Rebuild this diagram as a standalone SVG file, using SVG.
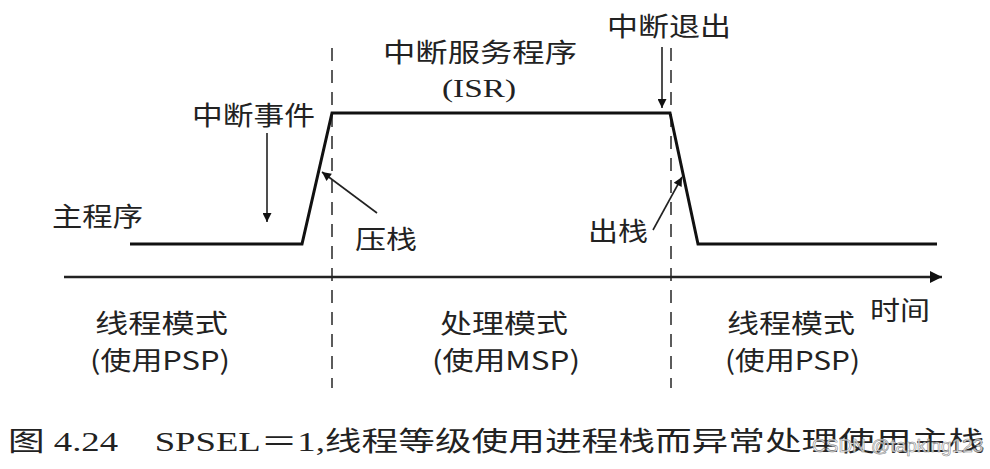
<svg xmlns="http://www.w3.org/2000/svg" width="990" height="469" viewBox="0 0 990 469">
<style>
.cn{font-family:"Noto Sans CJK SC","Liberation Sans",sans-serif;font-size:26px;fill:#222}
.lat{font-family:"Liberation Serif","Noto Sans CJK SC",serif;font-size:26px;fill:#222}
.cap{font-family:"Liberation Serif","Noto Sans CJK SC",serif;font-size:27px;fill:#222}
.trace{fill:none;stroke:#111;stroke-width:3;stroke-linejoin:miter}
.dash{stroke:#333;stroke-width:1.6;stroke-dasharray:13 9;fill:none}
.arr{stroke:#222;stroke-width:1.6;fill:none}
.axis{stroke:#222;stroke-width:2.4;fill:none}
</style>
<defs>
<marker id="ahs" viewBox="0 0 10 10" refX="10" refY="5" markerWidth="20" markerHeight="9" markerUnits="userSpaceOnUse" orient="auto"><path d="M0,0 L10,5 L0,10 z" fill="#111"/></marker>
<marker id="ahx" viewBox="0 0 10 10" refX="10" refY="5" markerWidth="22" markerHeight="12" markerUnits="userSpaceOnUse" orient="auto"><path d="M0,0 L10,5 L0,10 z" fill="#111"/></marker>
</defs>
<rect width="990" height="469" fill="#fff"/>
<g id="connectors">
<line class="dash" x1="332" y1="48" x2="332" y2="388"/>
<line class="dash" x1="671" y1="48" x2="671" y2="388"/>
<line id="time-axis" class="axis" x1="64" y1="277" x2="942" y2="277" marker-end="url(#ahx)"/>
<polyline id="trace" class="trace" points="130,244 302,244 332,113 670,113 698,244 937,244"/>
<line class="arr" x1="267" y1="133" x2="267" y2="222" marker-end="url(#ahs)"/>
<line class="arr" x1="662" y1="47" x2="662" y2="108" marker-end="url(#ahs)"/>
<line class="arr" x1="377" y1="213" x2="322" y2="172" marker-end="url(#ahs)"/>
<line class="arr" x1="653" y1="230" x2="682" y2="177" marker-end="url(#ahs)"/>
</g>
<g id="main-program"><text class="cn" x="52" y="226" textLength="91" lengthAdjust="spacingAndGlyphs">主程序</text></g>
<g id="interrupt-event"><text class="cn" x="192" y="125" textLength="123" lengthAdjust="spacingAndGlyphs">中断事件</text></g>
<g id="isr"><text class="cn" x="383" y="62" textLength="194" lengthAdjust="spacingAndGlyphs">中断服务程序</text><text class="lat" x="442" y="97" textLength="74" lengthAdjust="spacingAndGlyphs">(ISR)</text></g>
<g id="interrupt-exit"><text class="cn" x="607" y="36" textLength="124" lengthAdjust="spacingAndGlyphs">中断退出</text></g>
<g id="push"><text class="cn" x="355" y="249" textLength="62" lengthAdjust="spacingAndGlyphs">压栈</text></g>
<g id="pop"><text class="cn" x="588" y="241" textLength="60" lengthAdjust="spacingAndGlyphs">出栈</text></g>
<g id="thread-mode-1"><text class="cn" x="95" y="333" textLength="133" lengthAdjust="spacingAndGlyphs">线程模式</text><text class="cn" x="90" y="370" textLength="140" lengthAdjust="spacingAndGlyphs">(使用PSP)</text></g>
<g id="handler-mode"><text class="cn" x="440" y="333" textLength="128" lengthAdjust="spacingAndGlyphs">处理模式</text><text class="cn" x="432" y="370" textLength="148" lengthAdjust="spacingAndGlyphs">(使用MSP)</text></g>
<g id="thread-mode-2"><text class="cn" x="727" y="333" textLength="128" lengthAdjust="spacingAndGlyphs">线程模式</text><text class="cn" x="725" y="370" textLength="135" lengthAdjust="spacingAndGlyphs">(使用PSP)</text></g>
<g id="time-label"><text class="cn" x="870" y="320" textLength="60" lengthAdjust="spacingAndGlyphs">时间</text></g>
<g id="caption"><text class="cap" x="8" y="451" textLength="977" lengthAdjust="spacingAndGlyphs">图 4.24　SPSEL＝1,线程等级使用进程栈而异常处理使用主栈</text>
<text x="812" y="452" font-family="Liberation Sans,sans-serif" font-size="19" fill="#fff" fill-opacity="0.8" stroke="#888" stroke-width="0.6">CSDN @tapking123</text></g>
</svg>
